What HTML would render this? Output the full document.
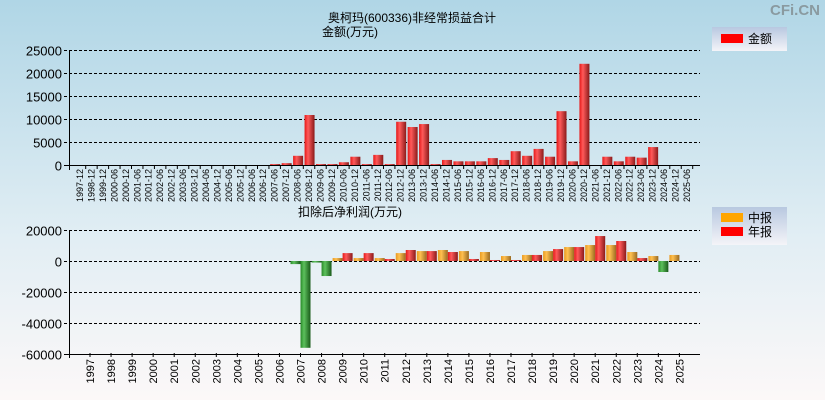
<!DOCTYPE html>
<html><head><meta charset="utf-8"><style>
html,body{margin:0;padding:0;}
body{width:825px;height:400px;overflow:hidden;font-family:"Liberation Sans","Noto Sans CJK SC",sans-serif;}
</style></head><body>
<svg id="c" width="825" height="400" xmlns="http://www.w3.org/2000/svg" font-family="Liberation Sans, Noto Sans CJK SC, sans-serif">
<defs>
<linearGradient id="bg" x1="0" y1="0" x2="0" y2="1"><stop offset="0" stop-color="#b0d6e6"/><stop offset="0.6" stop-color="#e2eef4"/><stop offset="1" stop-color="#fcf8f8"/></linearGradient>
<linearGradient id="gr" x1="0" x2="1"><stop offset="0" stop-color="#e41818"/><stop offset="0.35" stop-color="#ff5a5a"/><stop offset="1" stop-color="#8a1a1a"/></linearGradient>
<linearGradient id="go" x1="0" x2="1"><stop offset="0" stop-color="#e89a20"/><stop offset="0.35" stop-color="#ffc050"/><stop offset="1" stop-color="#9a6a20"/></linearGradient>
<linearGradient id="gg" x1="0" x2="1"><stop offset="0" stop-color="#2a8a2a"/><stop offset="0.35" stop-color="#5cc05c"/><stop offset="1" stop-color="#1a5a1a"/></linearGradient>
<linearGradient id="lg" x1="0" y1="0" x2="0" y2="1"><stop offset="0" stop-color="#b8c8e0"/><stop offset="1" stop-color="#f4f4f8"/></linearGradient>
</defs>
<rect width="825" height="400" fill="url(#bg)"/>
<text x="795" y="15" font-size="15" font-weight="bold" fill="#8a9aa0" text-anchor="middle">CFi.CN</text>
<text x="412" y="22" font-size="12" text-anchor="middle">奥柯玛(600336)非经常损益合计</text>
<text x="350" y="36" font-size="12" text-anchor="middle">金额(万元)</text>
<text x="350" y="216" font-size="12" text-anchor="middle">扣除后净利润(万元)</text>
<g>
<rect x="712" y="27" width="75" height="24" fill="url(#lg)"/>
<rect x="721" y="34" width="22" height="9" fill="#ff0000"/>
<text x="748" y="43" font-size="12">金额</text>
</g>
<g>
<rect x="712" y="207" width="75" height="38" fill="url(#lg)"/>
<rect x="721" y="213" width="22" height="9" fill="#ffa500"/>
<text x="748" y="222" font-size="12">中报</text>
<rect x="721" y="227" width="22" height="9" fill="#ff0000"/>
<text x="748" y="236" font-size="12">年报</text>
</g>
<g id="top"></g>
<g id="bot"></g>
</svg>
<script>
const topCats=["1997-12","1998-12","1999-12","2000-06","2000-12","2001-06","2001-12","2002-06","2002-12","2003-06","2003-12","2004-06","2004-12","2005-06","2005-12","2006-06","2006-12","2007-06","2007-12","2008-06","2008-12","2009-06","2009-12","2010-06","2010-12","2011-06","2011-12","2012-06","2012-12","2013-06","2013-12","2014-06","2014-12","2015-06","2015-12","2016-06","2016-12","2017-06","2017-12","2018-06","2018-12","2019-06","2019-12","2020-06","2020-12","2021-06","2021-12","2022-06","2022-12","2023-06","2023-12","2024-06","2024-12","2025-06"];
const topVals=[0,0,0,0,0,0,0,0,0,0,0,0,0,0,0,0,0,200,400,2000,10870,200,200,600,1800,200,2200,200,9400,8260,8900,200,1100,800,800,800,1500,1100,3000,2000,3500,1800,11700,800,22000,0,1800,800,1800,1600,3900,0,0,0];
const topTicks=[0,5000,10000,15000,20000,25000];
const years=["1997","1998","1999","2000","2001","2002","2003","2004","2005","2006","2007","2008","2009","2010","2011","2012","2013","2014","2015","2016","2017","2018","2019","2020","2021","2022","2023","2024","2025"];
const midVals=[0,0,0,0,0,0,0,0,0,0,-2000,-1000,1900,1900,1900,5100,6400,7100,6400,5800,3200,3900,6400,9000,10300,10300,5800,3200,3900];
const annVals=[0,0,0,0,0,0,0,0,0,0,-56000,-9700,5100,5100,1300,7100,6400,5800,1300,650,650,3900,7700,9000,16100,12900,1900,-7100,0];
const botTicks=[20000,0,-20000,-40000,-60000];

const NS="http://www.w3.org/2000/svg";
function mk(tag,attrs,parent){const e=document.createElementNS(NS,tag);for(const k in attrs)e.setAttribute(k,attrs[k]);parent.appendChild(e);return e;}
const X0=69,X1=700;
// top chart
const T=document.getElementById('top');
const tY0=165,tY1=50;
const ty=v=>tY0-(v-0)/(25000)*(tY0-tY1);
const tStep=(687-80)/(topCats.length-1);
const tx=i=>80+i*tStep;
topTicks.forEach(v=>{
  const y=ty(v)+0.5;
  const l=mk('line',{x1:X0-5,x2:X1,y1:y,y2:y,stroke:'#000','stroke-dasharray':v===0?'':'3,2'},T);
  
  const t=mk('text',{x:X0-7,y:y+5,'font-size':13,'text-anchor':'end'},T);t.textContent=v;
  
});
mk('line',{x1:X0+0.5,x2:X0+0.5,y1:tY1,y2:tY0+5,stroke:'#000'},T);
mk('line',{x1:X0,x2:X1,y1:tY0+0.5,y2:tY0+0.5,stroke:'#000'},T);
topCats.forEach((c,i)=>{
  const x=tx(i);
  mk('line',{x1:x+5.7,x2:x+5.7,y1:tY0,y2:tY0+4,stroke:'#000'},T);
  const t=mk('text',{x:0,y:0,'font-size':9,'text-anchor':'end',transform:`translate(${x+3},${tY0+4}) rotate(-90)`},T);t.textContent=c;
  
  const v=topVals[i];
  if(v>0){
    const r=mk('rect',{x:x-4.5,y:ty(v),width:10,height:tY0-ty(v),fill:'url(#gr)'},T);
    
  }
});
// bottom chart
const B=document.getElementById('bot');
const bTop=230,bBot=353;
const by=v=>261-v/20000*31;
const bx=i=>90+i*21.05;
botTicks.forEach(v=>{
  const y=Math.round(by(v))+0.5;
  const l=mk('line',{x1:X0-5,x2:X1,y1:y,y2:y,stroke:'#000','stroke-dasharray':v===-60000?'':'3,2'},B);
  
  const t=mk('text',{x:X0-7,y:y+5,'font-size':13,'text-anchor':'end'},B);t.textContent=v;
  
});
mk('line',{x1:X0+0.5,x2:X0+0.5,y1:bTop,y2:bBot+5,stroke:'#000'},B);
years.forEach((yr,i)=>{
  const x=bx(i);
  mk('line',{x1:x,x2:x,y1:bBot,y2:bBot+4,stroke:'#000'},B);
  const t=mk('text',{x:0,y:0,'font-size':11,'text-anchor':'end',transform:`translate(${x+4},${bBot+6}) rotate(-90)`},B);t.textContent=yr;
  
  [[midVals[i],-10,'url(#go)','mid'],[annVals[i],0,'url(#gr)','annual']].forEach(([v,off,fill,nm])=>{
    if(v===0)return;
    const y0=by(0),y1=by(v);
    const r=mk('rect',{x:x+off,y:Math.min(y0,y1),width:10,height:Math.max(1,Math.abs(y1-y0)),fill:v<0?'url(#gg)':fill},B);
    
  });
});
</script>
</body></html>
